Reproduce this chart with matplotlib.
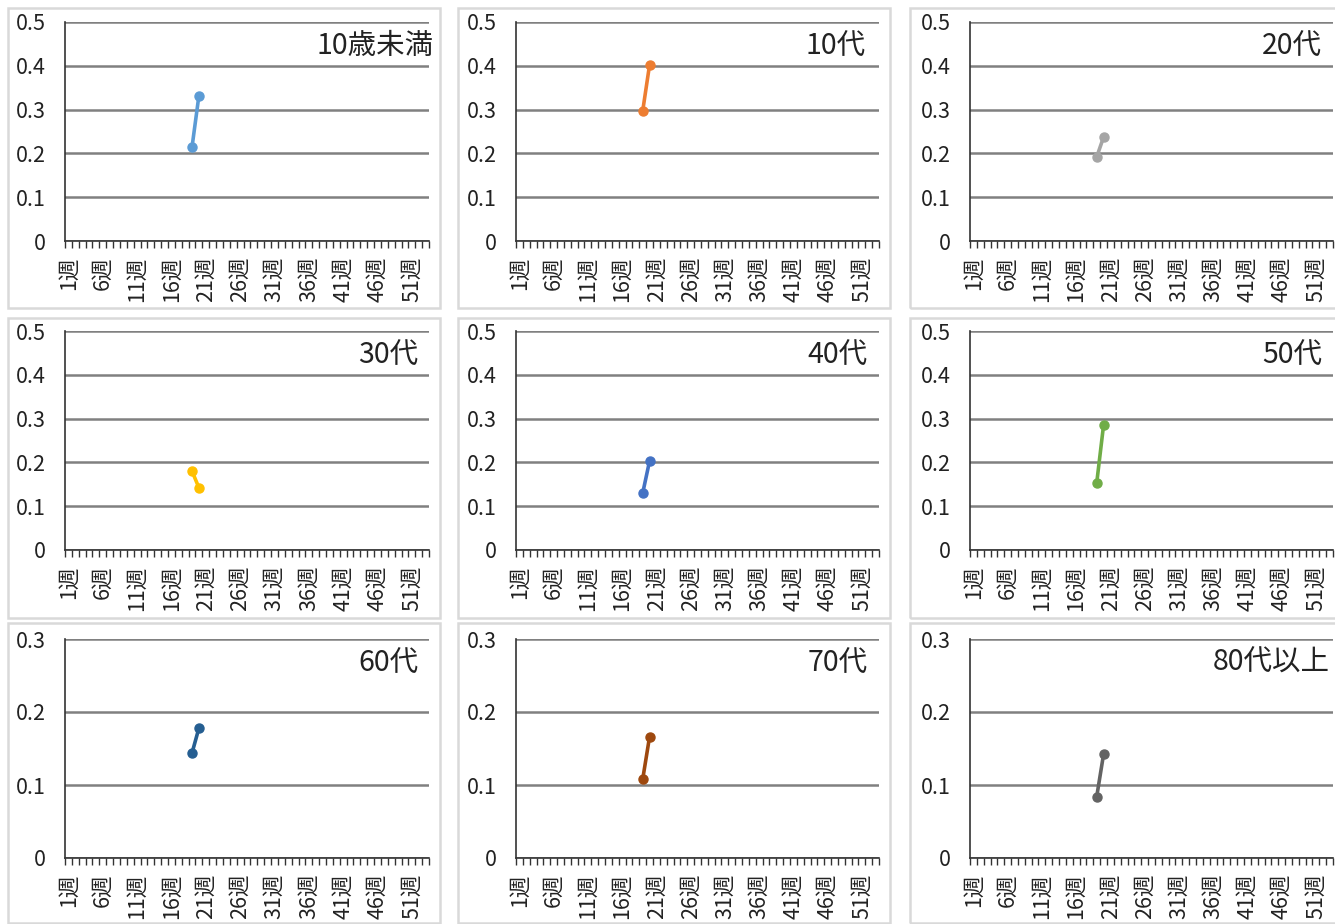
import numpy as np
import matplotlib.pyplot as plt
from matplotlib.patches import Rectangle

plt.rcParams['font.family'] = ['Noto Sans CJK JP', 'DejaVu Sans']

# data: weekly values, only weeks 19 and 20 are present
weeks = [19, 20]
names = ['10歳未満', '10代', '20代', '30代', '40代', '50代', '60代', '70代', '80代以上']
vals = {
    '10歳未満': [0.215, 0.332],
    '10代': [0.297, 0.402],
    '20代': [0.192, 0.237],
    '30代': [0.180, 0.142],
    '40代': [0.130, 0.203],
    '50代': [0.153, 0.285],
    '60代': [0.144, 0.178],
    '70代': [0.108, 0.166],
    '80代以上': [0.084, 0.142],
}
colors = ['#5B9BD5', '#ED7D31', '#A5A5A5', '#FFC000', '#4472C4',
          '#70AD47', '#255E91', '#9E480E', '#636363']
ymaxs = [0.5, 0.5, 0.5, 0.5, 0.5, 0.5, 0.3, 0.3, 0.3]
xlabel_weeks = list(range(1, 53, 5))
n_weeks = 53

W, H = 1335, 924
fig = plt.figure(figsize=(W / 100, H / 100), dpi=100)

# pixel layout
panel_x = [8, 458, 910]
panel_y = [8, 318, 623]
panel_w, panel_h = 432, 300
ax_left = [65, 516, 970]
ax_right = [429, 879, 1333]
ax_top = [22, 331, 639]
ax_bot = [241, 550, 858]
title_right = [434, 866, 1322, 418, 868, 1322, 418, 868, 1330]

for r in range(3):
    for c in range(3):
        fig.patches.append(Rectangle((panel_x[c] / W, 1 - (panel_y[r] + panel_h) / H),
                                     panel_w / W, panel_h / H, transform=fig.transFigure,
                                     fill=False, edgecolor='#D9D9D9', linewidth=1.8))

for i, name in enumerate(names):
    r, c = divmod(i, 3)
    l, rr = ax_left[c], ax_right[c]
    t, b = ax_top[r], ax_bot[r]
    ax = fig.add_axes([l / W, 1 - b / H, (rr - l) / W, (b - t) / H])
    ax.plot(weeks, vals[name], '-o', color=colors[i], lw=2.6, ms=6.5, zorder=3)
    ax.set_xlim(0.5, n_weeks + 0.5)
    ax.set_ylim(0, ymaxs[i])
    yt = np.round(np.arange(0, ymaxs[i] + 0.001, 0.1), 1)
    ax.set_yticks(yt)
    ax.set_yticklabels(['0' if v == 0 else f'{v:.1f}' for v in yt], fontsize=15.5, color='#222222')
    ax.tick_params(axis='y', length=0, pad=14)
    ax.grid(axis='y', color='#808080', lw=1.8)
    ax.set_axisbelow(True)
    ax.set_xticks(xlabel_weeks)
    ax.set_xticklabels([f'{w}週' for w in xlabel_weeks], rotation=90, fontsize=15.5,
                       color='#222222', va='top')
    ax.set_xticks(np.arange(0.5, n_weeks + 1), minor=True)
    ax.tick_params(axis='x', which='major', length=0, pad=11)
    ax.tick_params(axis='x', which='minor', length=5, width=1, color='#333333', direction='out')
    for s in ['top', 'right']:
        ax.spines[s].set_visible(False)
    for s in ['left', 'bottom']:
        ax.spines[s].set_color('#333333')
        ax.spines[s].set_linewidth(1.2)
    fig.text(title_right[i] / W, 1 - (t + 24) / H, name, ha='right', va='center',
             fontsize=20.5, color='#222222')

fig.savefig('out.png', dpi=100, facecolor='white')
